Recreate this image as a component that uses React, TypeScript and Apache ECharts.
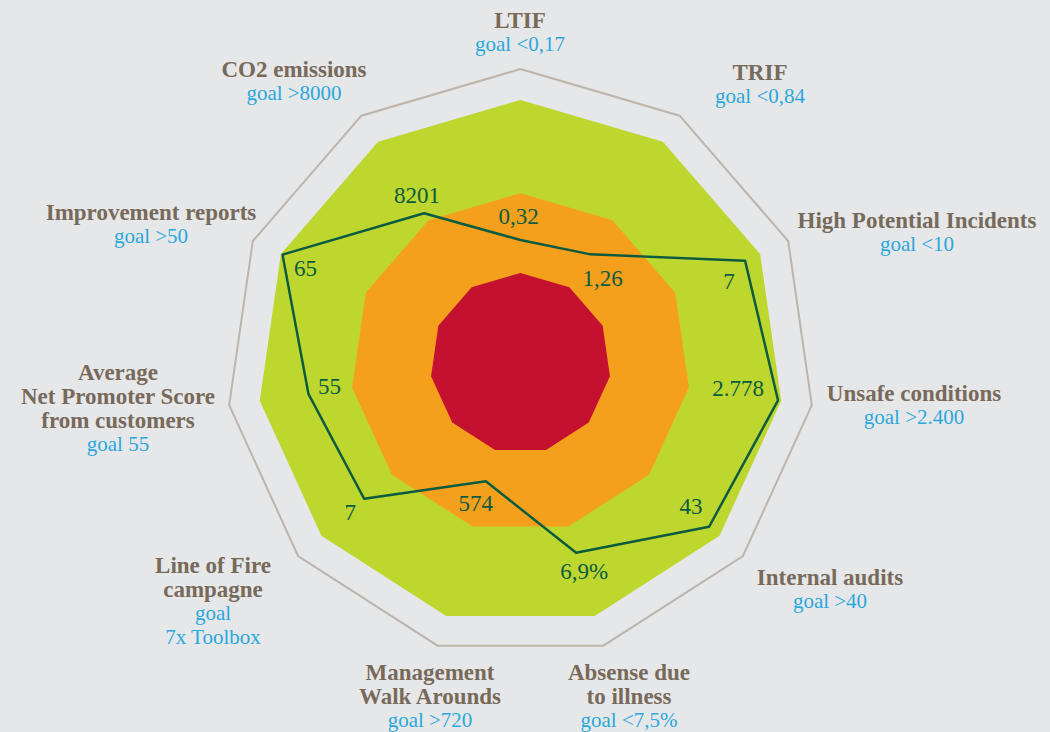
import React, { useEffect, useRef } from "react";
import * as echarts from "echarts";

// Indicators in ECharts radar order (counter-clockwise, starting at the top)
const indicators = [
  "LTIF",
  "CO2 emissions",
  "Improvement reports",
  "Average Net Promoter Score from customers",
  "Line of Fire campagne",
  "Management Walk Arounds",
  "Absense due to illness",
  "Internal audits",
  "Unsafe conditions",
  "High Potential Incidents",
  "TRIF",
];
const nameLines = [
  ["LTIF"],
  ["CO2 emissions"],
  ["Improvement reports"],
  ["Average", "Net Promoter Score", "from customers"],
  ["Line of Fire", "campagne"],
  ["Management", "Walk Arounds"],
  ["Absense due", "to illness"],
  ["Internal audits"],
  ["Unsafe conditions"],
  ["High Potential Incidents"],
  ["TRIF"],
];
const goalLines = [
  ["goal <0,17"],
  ["goal >8000"],
  ["goal >50"],
  ["goal 55"],
  ["goal", "7x Toolbox"],
  ["goal >720"],
  ["goal <7,5%"],
  ["goal >40"],
  ["goal >2.400"],
  ["goal <10"],
  ["goal <0,84"],
];
// Actual results shown as labels
const valueTexts = ["0,32", "8201", "65", "55", "7", "574", "6,9%", "43", "2.778", "7", "1,26"];
// Position of each result on the normalised radar scale (0..1)
const scores = [0.419, 0.606, 0.889, 0.728, 0.703, 0.418, 0.671, 0.848, 0.884, 0.839, 0.44];
// Zone bands (normalised)
const greenBand = [0.895, 0.895, 0.895, 0.895, 0.895, 0.895, 0.895, 0.895, 0.895, 0.895, 0.895];
const orangeBand = [0.578, 0.578, 0.578, 0.578, 0.578, 0.578, 0.578, 0.578, 0.578, 0.578, 0.578];
const redBand = [0.307, 0.307, 0.307, 0.307, 0.307, 0.307, 0.307, 0.307, 0.307, 0.307, 0.307];

// Layout (styling only)
const labelOffsets: [number, number][] = [
  [-2, -23], [-7, -18], [23, 14], [21, -7], [-14, 14], [-10, 22],
  [8, 19], [-18, -20], [-40, -12], [-16, 21], [12, 24],
];
const namePos: [number, number][] = [
  [520, 8], [294, 57], [151, 200], [118, 360], [213, 553], [430, 660],
  [629, 660], [830, 565], [914, 381], [917, 208], [760, 60],
];

const FONT = "'Liberation Serif', 'DejaVu Serif', serif";
const BG = "#e6e7e8";
const LINE = "#0b5b40";

export default function App() {
  const ref = useRef<HTMLDivElement>(null);
  useEffect(() => {
    if (!ref.current) return;
    const chart = echarts.init(ref.current, undefined, { renderer: "svg" });
    const graphics = indicators.map((_, i) => {
      const parts = [
        ...nameLines[i].map((l) => `{n|${l}}`),
        ...goalLines[i].map((l) => `{g|${l}}`),
      ];
      return {
        type: "text",
        x: namePos[i][0],
        y: namePos[i][1],
        silent: true,
        style: {
          text: parts.join("\n"),
          align: "center",
          verticalAlign: "top",
          rich: {
            n: { fontFamily: FONT, fontWeight: "bold", fontSize: 23, fill: "#786a5b", lineHeight: 24, align: "center" },
            g: { fontFamily: FONT, fontSize: 21, fill: "#2aa7df", lineHeight: 24, align: "center" },
          },
        },
      };
    });
    chart.setOption({
      animation: false,
      backgroundColor: BG,
      radar: {
        center: [520.5, 363.3],
        radius: 294.3,
        startAngle: 90,
        shape: "polygon",
        splitNumber: 1,
        indicator: indicators.map((name) => ({ name, min: 0, max: 1 })),
        axisName: { show: false },
        axisLine: { show: false },
        axisTick: { show: false },
        axisLabel: { show: false },
        splitArea: { show: false },
        splitLine: { show: true, lineStyle: { color: "#bdb5ac", width: 2 } },
      },
      graphic: graphics,
      series: [
        {
          type: "radar",
          silent: true,
          symbol: "none",
          data: [
            { value: greenBand, areaStyle: { color: "#bdd72f", opacity: 1 }, lineStyle: { width: 0, opacity: 0 } },
            { value: orangeBand, areaStyle: { color: "#f5a01d", opacity: 1 }, lineStyle: { width: 0, opacity: 0 } },
            { value: redBand, areaStyle: { color: "#c4112f", opacity: 1 }, lineStyle: { width: 0, opacity: 0 } },
          ],
        },
        {
          type: "radar",
          silent: true,
          symbol: "none",
          lineStyle: { color: LINE, width: 2.5 },
          data: [{ value: scores, name: "Result" }],
        },
        {
          type: "radar",
          silent: true,
          symbol: "circle",
          symbolSize: 2,
          itemStyle: { color: "rgba(0,0,0,0)" },
          lineStyle: { width: 0, opacity: 0 },
          label: {
            show: true,
            position: "inside",
            color: LINE,
            fontFamily: FONT,
            fontSize: 23,
            formatter: (p: any) =>
              p.value === scores[p.dataIndex] ? valueTexts[p.dataIndex] : "",
          },
          data: valueTexts.map((t, k) => ({
            value: scores,
            name: t,
            label: { offset: labelOffsets[k] },
          })),
        },
      ],
    });
    return () => chart.dispose();
  }, []);
  return (
    <div
      ref={ref}
      style={{ position: "fixed", left: 0, top: 0, width: 1050, height: 732, background: BG }}
    />
  );
}
